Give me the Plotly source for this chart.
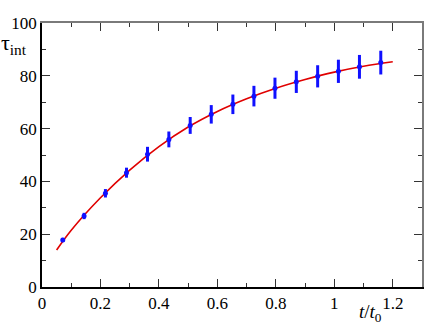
#!/usr/bin/env python3
"""
Integrated autocorrelation time vs t/t0 with fit curve.
"""

import plotly.graph_objects as go

t_ratio = [0.071, 0.144, 0.217, 0.289, 0.361, 0.434, 0.507, 0.579,
           0.653, 0.725, 0.797, 0.870, 0.943, 1.014, 1.086, 1.159]
tau_int = [17.8, 26.9, 35.5, 43.3, 50.3, 55.9, 61.2, 65.4,
           69.2, 72.3, 75.3, 77.7, 79.8, 81.7, 83.4, 85.0]
tau_err = [0.8, 1.2, 1.6, 1.9, 2.8, 3.0, 3.2, 3.5,
           3.7, 3.9, 4.0, 4.2, 4.2, 4.4, 4.5, 4.5]

# Fit curve samples
fit_t = [0.05, 0.1, 0.2, 0.3, 0.4, 0.5, 0.6, 0.7, 0.8, 0.9, 1.0, 1.1, 1.2]
fit_tau = [14.0, 21.5, 33.8, 44.3, 53.2, 60.6, 66.5, 71.3, 75.3, 78.6, 81.4, 83.6, 85.3]

x_ticks = [0, 0.2, 0.4, 0.6, 0.8, 1, 1.2]
x_minor = [0.1, 0.3, 0.5, 0.7, 0.9, 1.1]
y_ticks = [0, 20, 40, 60, 80, 100]
y_minor = [10, 30, 50, 70, 90]

font_family = "Times,serif"
X_RANGE = [0, 1.3]
Y_RANGE = [0, 100]

fig = go.Figure()

# Fit line
fig.add_trace(go.Scatter(
    x=fit_t, y=fit_tau, mode='lines', line_shape='spline',
    line=dict(color='#e00000', width=1.6),
    showlegend=False
))

# Data with error bars
fig.add_trace(go.Scatter(
    x=t_ratio, y=tau_int, mode='markers',
    marker=dict(color='#1010ff', size=5),
    error_y=dict(type='data', array=tau_err, color='#1010ff',
                 thickness=3, width=0),
    showlegend=False
))

# Empty traces so the extra (frame / minor tick) axes get drawn
for n in (2, 3, 4):
    fig.add_trace(go.Scatter(x=[None], y=[None], xaxis=f'x{n}', yaxis=f'y{n}',
                             showlegend=False))


def tick_axis(vals, rng, side, ticklen, line=False, linecolor='black',
              linewidth=1.5, overlay=None, anchor=None, labels=False):
    ax = dict(
        range=rng, tickmode='array', tickvals=vals, side=side,
        ticks='inside', ticklen=ticklen, tickwidth=1.2, tickcolor='#333333',
        showticklabels=labels, showgrid=False, zeroline=False, automargin=False,
        showline=line, linecolor=linecolor, linewidth=linewidth, mirror=False,
    )
    if overlay:
        ax['overlaying'] = overlay
    if anchor:
        ax['anchor'] = anchor
    return ax


xaxis = tick_axis(x_ticks, X_RANGE, 'bottom', 8, line=True, labels=True)
xaxis['ticktext'] = [str(v) for v in x_ticks]
yaxis = tick_axis(y_ticks, Y_RANGE, 'left', 8, line=True, labels=True)

fig.update_layout(
    template='simple_white',
    width=425, height=332,
    margin=dict(l=42, r=3, t=23, b=45),
    plot_bgcolor='white', paper_bgcolor='white',
    font=dict(family=font_family, size=17, color='black'),
    xaxis=xaxis,
    yaxis=yaxis,
    # top / right frame with major ticks (gray line)
    xaxis2=tick_axis(x_ticks, X_RANGE, 'top', 8, line=True, linecolor='#7a7a7a',
                     linewidth=2, overlay='x', anchor='y'),
    yaxis2=tick_axis(y_ticks, Y_RANGE, 'right', 8, line=True, linecolor='#7a7a7a',
                     linewidth=2, overlay='y', anchor='x'),
    # minor ticks, bottom / left
    xaxis3=tick_axis(x_minor, X_RANGE, 'bottom', 4, overlay='x', anchor='y'),
    yaxis3=tick_axis(y_minor, Y_RANGE, 'left', 4, overlay='y', anchor='x'),
    # minor ticks, top / right
    xaxis4=tick_axis(x_minor, X_RANGE, 'top', 4, overlay='x', anchor='y'),
    yaxis4=tick_axis(y_minor, Y_RANGE, 'right', 4, overlay='y', anchor='x'),
    annotations=[
        dict(text='τ<sub>int</sub>', xref='paper', yref='paper', x=0, y=0.92,
             xanchor='right', yanchor='middle', xshift=-13, showarrow=False,
             font=dict(size=22)),
        dict(text='<i>t</i>/<i>t</i><sub>0</sub>', xref='paper', yref='paper',
             x=0.865, y=0, xanchor='center', yanchor='top', yshift=-12,
             showarrow=False, font=dict(size=19)),
    ],
)

# Remove the default page margin so the figure sits at the window corner
fig.write_html("out.html", config={'displayModeBar': False},
               post_script="document.body.style.margin='0';")
